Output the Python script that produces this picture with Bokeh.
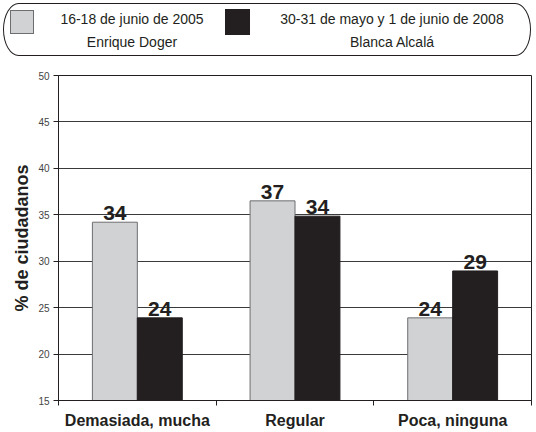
from bokeh.plotting import figure
from bokeh.models import Range1d, FixedTicker, ColumnDataSource, Div
from bokeh.layouts import column
from bokeh.transform import dodge
from bokeh.core.properties import value
from bokeh.embed import file_html
from bokeh.resources import INLINE

# ---------------- data ----------------
categories = ["Demasiada, mucha", "Regular", "Poca, ninguna"]
series_2005 = [34.2, 36.5, 23.9]
series_2008 = [23.9, 34.85, 28.95]
labels_2005 = ["34", "37", "24"]
labels_2008 = ["24", "34", "29"]
legend_2005 = ["16-18 de junio de 2005", "Enrique Doger"]
legend_2008 = ["30-31 de mayo y 1 de junio de 2008", "Blanca Alcalá"]
y_ticks = [15, 20, 25, 30, 35, 40, 45, 50]
y_title = "% de ciudadanos"

FONT = "Liberation Sans"
GRAY = "#d1d2d4"
GRAY_LINE = "#6d6e70"
BLACK = "#231f20"
TXT = "#231f20"

xpos = [i + 0.5 for i in range(len(categories))]
src = ColumnDataSource(dict(x=xpos, a=series_2005, b=series_2008,
                            la=labels_2005, lb=labels_2008))

W, H = 536, 432
LEG_H = 62

# ---------------- legend (HTML block above the chart) ----------------
legend_html = (
    f'<div style="position:relative;width:{W}px;height:{LEG_H}px;overflow:hidden;'
    f"font-family:'{FONT}';font-size:14px;color:{TXT};\">"
    f'<div style="position:absolute;left:3px;top:3px;width:528px;height:53px;'
    f'border:1px solid {TXT};border-radius:16px / 27px;background:white;"></div>'
    f'<div style="position:absolute;left:10px;top:10px;width:24px;height:24px;'
    f'background:{GRAY};border:1px solid {GRAY_LINE};"></div>'
    f'<div style="position:absolute;left:225px;top:9px;width:25px;height:26px;'
    f'background:{BLACK};border:1px solid {BLACK};"></div>'
    f'<div style="position:absolute;left:32px;top:8px;width:200px;text-align:center;'
    f'line-height:23px;white-space:nowrap;">{legend_2005[0]}<br>{legend_2005[1]}</div>'
    f'<div style="position:absolute;left:252px;top:8px;width:280px;text-align:center;'
    f'line-height:23px;white-space:nowrap;">{legend_2008[0]}<br>{legend_2008[1]}</div>'
    f'</div>'
)
leg = Div(text=legend_html, width=W, height=LEG_H, margin=0,
          styles={"overflow": "hidden"})

# ---------------- main chart ----------------
p = figure(width=W, height=H - LEG_H, x_range=Range1d(0, len(categories)),
           y_range=Range1d(y_ticks[0], y_ticks[-1]),
           output_backend="svg", toolbar_location=None,
           min_border_left=58, min_border_right=5,
           min_border_top=75 - LEG_H, min_border_bottom=32)

p.vbar(x=dodge("x", -0.1425), top="a", bottom=0, width=0.285,
       source=src, fill_color=GRAY, line_color=GRAY_LINE, line_width=1)
p.vbar(x=dodge("x", 0.1425), top="b", bottom=0, width=0.285,
       source=src, fill_color=BLACK, line_color=BLACK, line_width=1)

p.text(x=dodge("x", -0.1425), y="a", text="la", source=src,
       text_font=value(FONT), text_font_style="bold", text_font_size="21px",
       text_color=TXT, text_align="center", text_baseline="alphabetic", y_offset=-9)
p.text(x=dodge("x", 0.1425), y="b", text="lb", source=src,
       text_font=value(FONT), text_font_style="bold", text_font_size="21px",
       text_color=TXT, text_align="center", text_baseline="alphabetic", y_offset=-9)

p.outline_line_color = "#231f20"
p.outline_line_width = 1
p.xgrid.visible = False
p.ygrid.grid_line_color = "#3a3a3a"
p.ygrid.grid_line_width = 1

# y axis
p.yaxis.ticker = FixedTicker(ticks=y_ticks)
p.yaxis.major_label_text_font = FONT
p.yaxis.major_label_text_font_size = "10px"
p.yaxis.major_label_text_color = "#444444"
p.yaxis.major_tick_in = 0
p.yaxis.major_tick_out = 5
p.yaxis.minor_tick_line_color = None
p.yaxis.axis_line_color = "#231f20"
p.yaxis.major_tick_line_color = "#231f20"
p.yaxis.major_label_standoff = 4
p.yaxis.axis_label = y_title
p.yaxis.axis_label_text_font = FONT
p.yaxis.axis_label_text_font_style = "bold"
p.yaxis.axis_label_text_font_size = "18px"
p.yaxis.axis_label_text_color = TXT
p.yaxis.axis_label_standoff = 3

# x axis
p.xaxis.ticker = FixedTicker(ticks=xpos, minor_ticks=list(range(len(categories) + 1)))
p.xaxis.major_label_overrides = {x: c for x, c in zip(xpos, categories)}
p.xaxis.major_tick_line_color = None
p.xaxis.minor_tick_in = 0
p.xaxis.minor_tick_out = 5
p.xaxis.minor_tick_line_color = "#231f20"
p.xaxis.axis_line_color = "#231f20"
p.xaxis.major_label_text_font = FONT
p.xaxis.major_label_text_font_style = "bold"
p.xaxis.major_label_text_font_size = "16px"
p.xaxis.major_label_text_color = TXT
p.xaxis.major_label_standoff = 5

layout = column(leg, p, spacing=0)
open("out.html", "w").write(file_html(layout, INLINE))
